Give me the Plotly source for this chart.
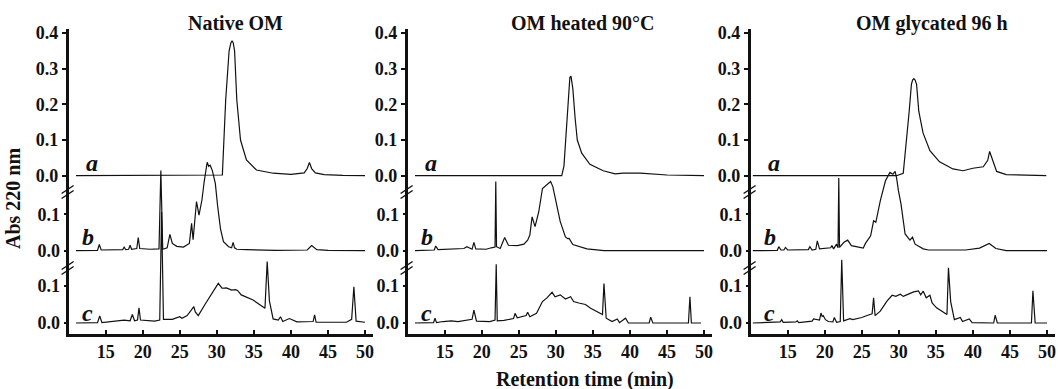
import plotly.graph_objects as go

# ---------------- data (retention time in min, absorbance at 220 nm) ----------------
panel_titles = ["Native OM", "OM heated 90°C", "OM glycated 96 h"]
trace_labels = ["a", "b", "c"]
x_ticks = [15, 20, 25, 30, 35, 40, 45, 50]
a_ticks = [0.0, 0.1, 0.2, 0.3, 0.4]
bc_ticks = [0.0, 0.1]

native_a = [(11, 0), (20, 0), (30.0, 0), (30.75, 0.002), (31.2, 0.212), (31.66, 0.35), (31.9, 0.372),
            (32.06, 0.378), (32.22, 0.372), (32.4, 0.35), (32.7, 0.212), (33.2, 0.1), (34.0, 0.044),
            (35.35, 0.016), (37.6, 0.007), (40.0, 0.004), (41.8, 0.008), (42.2, 0.02), (42.5, 0.037),
            (42.8, 0.02), (43.3, 0.008), (44.5, 0.003), (47, 0.001), (50.0, 0.0)]
native_b = [(11, 0), (13.9, 0.001), (14.14, 0.017), (14.4, 0.002), (17.3, 0.003), (17.5, 0.01), (17.7, 0.003),
            (18.1, 0.004), (18.3, 0.015), (18.5, 0.004), (19.2, 0.006), (19.4, 0.036), (19.6, 0.006),
            (21.0, 0.004), (22.2, 0.005), (22.45, 0.22), (22.7, 0.004), (23.3, 0.008), (23.67, 0.045),
            (24.0, 0.02), (24.6, 0.012), (25.5, 0.01), (26.3, 0.02), (26.6, 0.075), (26.8, 0.03),
            (27.26, 0.135), (27.6, 0.098), (28.0, 0.14), (28.3, 0.19), (28.7, 0.243), (28.9, 0.232),
            (29.1, 0.235), (29.4, 0.22), (29.8, 0.185), (30.1, 0.125), (30.5, 0.06), (30.9, 0.025),
            (31.6, 0.011), (32.0, 0.008), (32.2, 0.023), (32.4, 0.008), (32.7, 0.004), (34.0, 0.003),
            (38.0, 0.001), (42.2, 0.002), (42.8, 0.014), (43.5, 0.003), (45.0, 0.001), (50.0, 0.0)]
native_c = [(11, 0), (13.9, 0.001), (14.2, 0.019), (14.5, 0.001), (17.5, 0.008), (18.3, 0.006), (18.6, 0.023),
            (18.9, 0.006), (19.3, 0.008), (19.5, 0.041), (19.7, 0.008), (20.5, 0.006), (21.6, 0.005),
            (22.3, 0.008), (22.55, 0.3), (22.8, 0.01), (24.0, 0.01), (25.0, 0.017), (25.3, 0.013),
            (26.0, 0.02), (26.9, 0.044), (27.1, 0.03), (27.5, 0.02), (28.4, 0.05), (29.3, 0.08),
            (30.2, 0.107), (30.7, 0.094), (31.3, 0.095), (32.0, 0.089), (32.5, 0.09), (32.8, 0.088),
            (33.3, 0.076), (34.9, 0.062), (36.5, 0.04), (36.8, 0.166), (37.1, 0.06), (37.6, 0.011),
            (38.3, 0.008), (38.6, 0.017), (38.9, 0.004), (39.8, 0.012), (40.8, 0.003), (43.0, 0.004),
            (43.2, 0.022), (43.4, 0.002), (47.5, 0.002), (48.2, 0.01), (48.5, 0.098), (48.8, 0.005),
            (50.0, 0.002)]

heated_a = [(11, 0), (20, 0), (30.8, 0), (31.1, 0.027), (31.55, 0.163), (31.9, 0.276), (32.05, 0.279),
            (32.3, 0.244), (32.6, 0.163), (32.9, 0.1), (33.5, 0.063), (34.6, 0.032), (36.4, 0.014),
            (38.0, 0.005), (39.1, 0.007), (41.4, 0.007), (45, 0.002), (50, 0.0)]
heated_b = [(11, 0), (13.6, 0.002), (13.8, 0.013), (14.1, 0.003), (17.6, 0.006), (17.8, 0.008), (18.0, 0.011),
            (18.7, 0.004), (18.95, 0.023), (19.2, 0.005), (20.6, 0.004), (21.3, 0.008), (21.8, 0.01),
            (21.9, 0.19), (22.0, 0.011), (22.5, 0.006), (23.1, 0.036), (23.6, 0.015), (24.8, 0.014),
            (25.7, 0.018), (26.2, 0.029), (26.5, 0.043), (26.8, 0.093), (27.2, 0.066), (27.7, 0.107),
            (28.2, 0.171), (28.5, 0.176), (28.8, 0.182), (29.3, 0.19), (29.6, 0.176), (29.95, 0.144),
            (30.6, 0.08), (31.3, 0.038), (31.6, 0.033), (31.8, 0.034), (32.3, 0.017), (34.2, 0.005),
            (36.5, 0.0), (50, 0.0)]
heated_c = [(11, 0), (13.5, 0.001), (13.7, 0.013), (13.9, 0.001), (14.8, 0.004), (15.9, 0.006), (16.8, 0.004),
            (17.9, 0.008), (18.7, 0.01), (18.95, 0.035), (19.3, 0.005), (21.1, 0.004), (21.8, 0.008),
            (21.96, 0.159), (22.1, 0.006), (23.0, 0.007), (24.3, 0.012), (24.5, 0.026), (24.8, 0.014),
            (26.0, 0.02), (26.2, 0.029), (26.5, 0.017), (27.4, 0.026), (28.2, 0.058), (28.8, 0.068),
            (29.5, 0.083), (29.9, 0.071), (30.6, 0.076), (31.3, 0.065), (32.0, 0.071), (32.4, 0.058),
            (33.1, 0.054), (34.0, 0.05), (34.7, 0.04), (36.3, 0.023), (36.5, 0.107), (36.8, 0.013),
            (37.6, 0.004), (38.3, 0.011), (38.6, 0.001), (39.4, 0.013), (39.8, 0.0), (42.6, 0.0),
            (42.8, 0.016), (43.1, 0.0), (47.9, 0.0), (48.1, 0.071), (48.3, 0.0), (49.6, 0.0)]

glycated_a = [(10.3, 0), (20, 0), (29.7, 0), (30.6, 0.007), (31.03, 0.093), (31.4, 0.18), (31.7, 0.256),
              (31.86, 0.268), (32.03, 0.272), (32.2, 0.268), (32.4, 0.256), (32.7, 0.18), (33.27, 0.12),
              (34.2, 0.07), (35.5, 0.039), (37.3, 0.019), (38.67, 0.014), (40.0, 0.021), (41.4, 0.025),
              (42.0, 0.043), (42.26, 0.068), (42.6, 0.048), (43.2, 0.012), (44.5, 0.003), (49.9, 0.0)]
glycated_b = [(10.3, 0), (13.6, 0.001), (13.8, 0.011), (14.1, 0.002), (14.5, 0.002), (14.7, 0.009),
              (15.0, 0.002), (17.8, 0.003), (18.0, 0.011), (18.3, 0.002), (18.8, 0.004), (19.0, 0.027),
              (19.3, 0.005), (20.8, 0.008), (20.97, 0.014), (21.2, 0.005), (21.6, 0.018), (21.8, 0.008),
              (21.9, 0.2), (22.0, 0.009), (22.6, 0.023), (23.1, 0.029), (23.6, 0.014), (24.5, 0.009),
              (25.2, 0.007), (25.5, 0.02), (26.2, 0.041), (26.6, 0.082), (26.9, 0.078), (27.5, 0.137),
              (28.2, 0.192), (28.8, 0.215), (29.2, 0.21), (29.5, 0.218), (29.7, 0.2), (29.95, 0.165),
              (30.3, 0.128), (30.85, 0.046), (31.5, 0.029), (31.85, 0.037), (32.2, 0.018), (33.3, 0.005),
              (34.0, 0.002), (39.0, 0.002), (40.9, 0.007), (42.2, 0.02), (43.1, 0.006), (44.5, 0.0),
              (50, 0.0)]
glycated_c = [(10.3, 0), (14.0, 0.003), (14.2, 0.009), (14.4, 0.002), (16.1, 0.003), (16.3, 0.006),
              (16.5, 0.001), (18.3, 0.005), (18.5, 0.011), (18.9, 0.009), (19.3, 0.008), (19.5, 0.027),
              (19.65, 0.018), (19.8, 0.02), (20.1, 0.009), (20.5, 0.004), (21.1, 0.003), (21.3, 0.015),
              (21.6, 0.002), (22.1, 0.004), (22.3, 0.171), (22.55, 0.006), (23.0, 0.009), (23.4, 0.012),
              (23.8, 0.009), (25.0, 0.015), (26.1, 0.023), (26.4, 0.025), (26.6, 0.068), (26.8, 0.02),
              (27.5, 0.032), (28.4, 0.059), (29.1, 0.075), (29.6, 0.072), (30.2, 0.078), (30.6, 0.072),
              (31.3, 0.078), (32.0, 0.084), (32.65, 0.087), (32.95, 0.076), (33.3, 0.086), (33.7, 0.068),
              (34.2, 0.075), (34.5, 0.054), (35.1, 0.041), (36.5, 0.023), (36.7, 0.149), (37.0, 0.058),
              (37.5, 0.009), (38.3, 0.015), (38.6, 0.004), (39.5, 0.011), (39.9, 0.001), (42.8, 0.0),
              (43.0, 0.021), (43.3, 0.0), (47.9, 0.0), (48.1, 0.087), (48.4, 0.0), (50, 0.0)]

panels = [[native_a, native_b, native_c],
          [heated_a, heated_b, heated_c],
          [glycated_a, glycated_b, glycated_c]]

# ---------------- layout geometry ----------------
W, H = 1058, 389
MT, MB = 29, 55
PH = H - MT - MB
x_domains = [(68.6 / W, 373 / W), (407.6 / W, 712 / W), (750.6 / W, 1055 / W)]
title_cx = [235, 583, 932]
x_range = [10, 51.08]
y_ranges = [[-0.4434, 0.411], [-0.2288, 0.609], [-0.0297, 0.7946]]
label_pos = [(13.1, 0.035), (12.6, 0.038), (12.6, 0.027)]

FONT = "Liberation Serif"
fig = go.Figure()
layout = dict(width=W, height=H, margin=dict(l=0, r=0, t=MT, b=MB, autoexpand=False),
              paper_bgcolor="white", plot_bgcolor="white", showlegend=False,
              font=dict(family=FONT, color="#111", size=18))
annotations = []
shapes = []

for i, traces in enumerate(panels):
    xname = "x" if i == 0 else f"x{i + 1}"
    xkey = "xaxis" if i == 0 else f"xaxis{i + 1}"
    base_k = 3 * i + 1
    base_y = "y" if base_k == 1 else f"y{base_k}"
    layout[xkey] = dict(domain=list(x_domains[i]), range=x_range, anchor=base_y,
                        tickvals=x_ticks, ticks="inside", ticklen=4, tickwidth=1.5,
                        tickcolor="#111", showline=True, linewidth=2.5, linecolor="#111",
                        showgrid=False, zeroline=False, automargin=False,
                        tickfont=dict(family=FONT, size=18, color="#111", weight="bold"))
    for j, data in enumerate(traces):
        k = base_k + j
        yname = "y" if k == 1 else f"y{k}"
        ykey = "yaxis" if k == 1 else f"yaxis{k}"
        ax = dict(domain=[0, 1], range=y_ranges[j], anchor=xname,
                  tickvals=a_ticks if j == 0 else bc_ticks, tickformat=".1f",
                  ticks="outside", ticklen=4, tickwidth=1.5, tickcolor="#111",
                  showline=(j == 0), linewidth=2.5, linecolor="#111",
                  showgrid=False, zeroline=False, automargin=False,
                  tickfont=dict(family=FONT, size=18, color="#111", weight="bold"))
        if j > 0:
            ax["overlaying"] = base_y
        layout[ykey] = ax
        xs = [p[0] for p in data]
        ys = [p[1] for p in data]
        fig.add_trace(go.Scatter(x=xs, y=ys, mode="lines", xaxis=xname, yaxis=yname,
                                 line=dict(color="#111", width=1.2), hoverinfo="skip"))
        annotations.append(dict(x=label_pos[j][0], y=label_pos[j][1], xref=xname, yref=yname,
                                text=f"<b><i>{trace_labels[j]}</i></b>", showarrow=False,
                                font=dict(family=FONT, size=24, color="#111"),
                                xanchor="center", yanchor="middle"))
    # panel title
    annotations.append(dict(x=title_cx[i] / W, y=1 + (MT - 23) / PH, xref="paper", yref="paper",
                            text=f"<b>{panel_titles[i]}</b>",
                            showarrow=False, font=dict(family=FONT, size=20, color="#111"),
                            xanchor="center", yanchor="middle"))
    # axis break marks
    for yb in (1 - (192 - MT) / PH, 1 - (268 - MT) / PH):
        for off in (-2.5, 2.5):
            shapes.append(dict(type="line", xref="paper", yref="paper",
                               xsizemode="pixel", ysizemode="pixel",
                               xanchor=x_domains[i][0], yanchor=yb,
                               x0=-7, x1=5, y0=-4 + off, y1=4 + off,
                               line=dict(color="#111", width=1.5)))

annotations.append(dict(x=13 / W, y=1 - (199 - MT) / PH, xref="paper", yref="paper",
                        text="<b>Abs 220 nm</b>", textangle=-90, showarrow=False,
                        font=dict(family=FONT, size=20, color="#111"),
                        xanchor="center", yanchor="middle"))
annotations.append(dict(x=585 / W, y=-(380 - (H - MB)) / PH, xref="paper", yref="paper",
                        text="<b>Retention time (min)</b>", showarrow=False,
                        font=dict(family=FONT, size=20, color="#111"),
                        xanchor="center", yanchor="middle"))

layout["annotations"] = annotations
layout["shapes"] = shapes
fig.update_layout(**layout)
fig.write_html("out.html", config={"displayModeBar": False},
               post_script="document.body.style.margin='0';document.body.style.overflow='hidden';")
